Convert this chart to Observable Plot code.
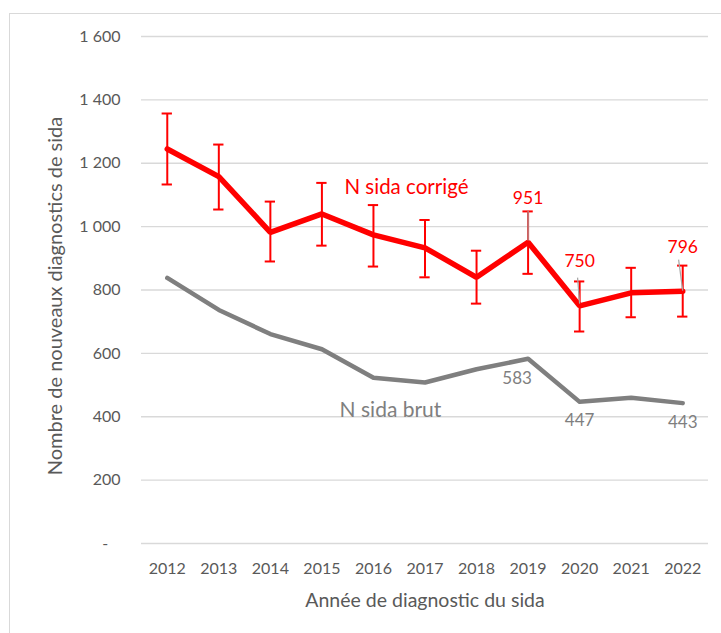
<!DOCTYPE html>
<html><head><meta charset="utf-8">
<script src="https://cdn.jsdelivr.net/npm/d3@7"></script>
<script src="https://cdn.jsdelivr.net/npm/@observablehq/plot@0.6"></script>
<style>
body{margin:0;background:#fff;}
#wrap{position:relative;width:721px;height:633px;overflow:hidden;}
#frame{position:absolute;left:9px;top:13px;width:800px;height:700px;border:1px solid #d9d9d9;}
#chart{position:absolute;left:0;top:0;}
</style></head><body>
<div id="wrap"><div id="frame"></div><div id="chart"></div></div>
<script>
const years = [2012,2013,2014,2015,2016,2017,2018,2019,2020,2021,2022];
const corrige = [1245,1158,982,1040,974,933,840,951,750,791,796];
const lower   = [1133,1054,890,940,874,840,757,851,669,714,716];
const upper   = [1357,1259,1079,1138,1068,1021,924,1048,827,870,877];
const brut    = [838,737,661,613,523,508,550,583,447,460,443];
const yTicks = [0,200,400,600,800,1000,1200,1400,1600];

const redLabelYears = [2019,2020,2022];
const redLabelVals = [951,750,796];
const grayLabelYears = [2020,2022];
const grayLabelVals = [447,443];
const grayLabel2019 = [583];

const nameCorrige = "N sida corrigé";
const nameBrut = "N sida brut";
const nameCorrigeX = [2016.64], nameCorrigeY = [1123];
const nameBrutX = [2016.33], nameBrutY = [422];

const loc = d3.formatLocale({decimal:",", thousands:"\u00a0", grouping:[3], currency:["","€"]});
const fmt = loc.format(",");
const yFmt = d => d === 0 ? "-\u00a0\u00a0\u00a0" : fmt(d);

const FONT = "Lato, sans-serif";
const TXT = "#595959";

const chart = Plot.plot({
  width: 721, height: 633,
  marginLeft: 141, marginRight: 13, marginTop: 36, marginBottom: 90,
  style: {fontFamily: FONT, background: "transparent"},
  x: {domain: [2011.5, 2022.5]},
  y: {domain: [0, 1600]},
  marks: [
    Plot.ruleY(yTicks, {stroke: "#d9d9d9", strokeWidth: 1.3}),
    Plot.axisY({ticks: yTicks, tickFormat: yFmt, tickSize: 0, tickPadding: 21, fontSize: 16, fill: TXT, label: null}),
    Plot.axisX({ticks: years, tickFormat: d => String(d), tickSize: 0, tickPadding: 19, fontSize: 16, fill: TXT, label: null}),
    Plot.text(["Année de diagnostic du sida"], {frameAnchor: "bottom", lineAnchor: "middle", textAnchor: "middle", dy: 57, fontSize: 19.5, fill: TXT}),
    Plot.text(["Nombre de nouveaux diagnostics de sida"], {frameAnchor: "left", textAnchor: "middle", lineAnchor: "middle", dx: -86, dy: 6, rotate: -90, fontSize: 20, fill: TXT}),
    Plot.line(years, {x: years, y: brut, stroke: "#7f7f7f", strokeWidth: 4.5, strokeLinejoin: "round"}),
    Plot.line(years, {x: years, y: corrige, stroke: "#ff0000", strokeWidth: 5.5, strokeLinejoin: "miter"}),
    Plot.ruleX(years, {x: years, y1: lower, y2: upper, stroke: "#ff0000", strokeWidth: 2}),
    Plot.ruleY(years, {y: lower, x1: years.map(v => v - 0.1), x2: years.map(v => v + 0.1), stroke: "#ff0000", strokeWidth: 2}),
    Plot.ruleY(years, {y: upper, x1: years.map(v => v - 0.1), x2: years.map(v => v + 0.1), stroke: "#ff0000", strokeWidth: 2}),
    Plot.link([0,1,2], {x1: [2019, 2019.96, 2021.92], y1: [1050, 839, 896], x2: [2019, 2020, 2022], y2: [956, 757, 798], stroke: "#a6a6a6", strokeWidth: 1.2}),
    Plot.text(redLabelVals, {x: redLabelYears, y: redLabelVals, text: d => String(d), dy: -44, fontSize: 17.5, fill: "#ff0000"}),
    Plot.text(grayLabelVals, {x: grayLabelYears, y: grayLabelVals, text: d => String(d), dy: 19, fontSize: 17, fill: "#7f7f7f"}),
    Plot.text(grayLabel2019, {x: [2019], y: grayLabel2019, text: d => String(d), dy: 20, dx: -11, fontSize: 17, fill: "#7f7f7f"}),
    Plot.text([nameCorrige], {x: nameCorrigeX, y: nameCorrigeY, text: d => d, fontSize: 20.5, fill: "#ff0000"}),
    Plot.text([nameBrut], {x: nameBrutX, y: nameBrutY, text: d => d, fontSize: 21, fill: "#7f7f7f"})
  ]
});
document.getElementById("chart").appendChild(chart);
</script>
</body></html>
